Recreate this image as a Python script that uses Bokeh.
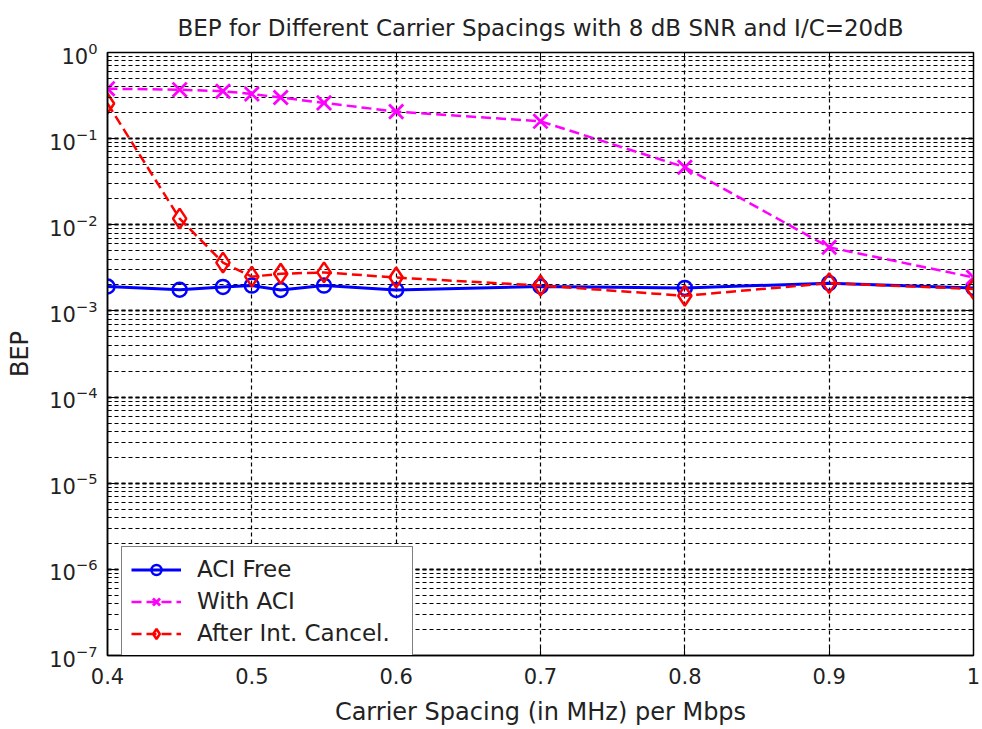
from bokeh.plotting import figure
from bokeh.models import (FixedTicker, LogAxis, LinearAxis, Legend, LegendItem,
                          LogTicker, Range1d, CustomJSTickFormatter)
from bokeh.embed import file_html
from bokeh.resources import INLINE

# ---- data ----
spacing = [0.4, 0.45, 0.48, 0.5, 0.52, 0.55, 0.6, 0.7, 0.8, 0.9, 1.0]
aci_free = [1.92e-3, 1.76e-3, 1.90e-3, 1.97e-3, 1.75e-3, 1.97e-3, 1.75e-3, 1.92e-3, 1.85e-3, 2.1e-3, 1.85e-3]
with_aci = [0.38, 0.37, 0.355, 0.33, 0.30, 0.26, 0.206, 0.159, 0.0466, 0.00548, 0.00245]
after_ic = [0.256, 0.0118, 0.00364, 0.0025, 0.0027, 0.0028, 0.00244, 0.00197, 0.0015, 0.0021, 0.0018]
x_ticks = [0.4, 0.5, 0.6, 0.7, 0.8, 0.9, 1.0]
x_tick_labels = {0.4: "0.4", 0.5: "0.5", 0.6: "0.6", 0.7: "0.7", 0.8: "0.8", 0.9: "0.9", 1: "1"}
series_names = ["ACI Free", "With ACI", "After Int. Cancel."]

FONT = "DejaVu Sans"
TXT = "#222222"

p = figure(width=982, height=729, y_axis_type="log",
           x_range=Range1d(0.4, 1.0), y_range=Range1d(1e-7, 1.0),
           output_backend="svg", toolbar_location=None,
           min_border_left=107, min_border_right=9, min_border_top=52, min_border_bottom=74)

p.title.text = "BEP for Different Carrier Spacings with 8 dB SNR and I/C=20dB"
p.title.align = "center"
p.title.vertical_align = "top"
p.title.text_font = FONT
p.title.text_font_size = "23px"
p.title.text_font_style = "normal"
p.title.text_color = TXT
p.title.standoff = 20

p.outline_line_color = "black"
p.outline_line_width = 1.5
p.background_fill_color = "white"
p.border_fill_color = "white"

# axes
for ax in [p.xaxis[0], p.yaxis[0]]:
    ax.major_tick_in = 8
    ax.major_tick_out = 0
    ax.minor_tick_in = 4
    ax.minor_tick_out = 0
    ax.axis_line_color = "black"
    ax.axis_line_width = 1.5
    ax.major_tick_line_color = "black"
    ax.minor_tick_line_color = "black"
    ax.major_label_text_font = FONT
    ax.major_label_text_font_size = "21px"
    ax.major_label_text_color = TXT
    ax.axis_label_text_font = FONT
    ax.axis_label_text_font_size = "24px"
    ax.axis_label_text_font_style = "normal"
    ax.axis_label_text_color = TXT

p.xaxis.ticker = FixedTicker(ticks=x_ticks)
p.xaxis.major_label_overrides = x_tick_labels
p.xaxis.minor_tick_line_color = None
p.xaxis.axis_label = "Carrier Spacing (in MHz) per Mbps"
p.xaxis.major_label_standoff = 12
p.xaxis.axis_label_standoff = 11
p.yaxis.axis_label = "BEP"
p.yaxis.major_label_standoff = 10
p.yaxis.axis_label_standoff = 12
p.yaxis.ticker = LogTicker(num_minor_ticks=10)

# mirrored axes (box ticks)
r_ax = LogAxis(ticker=LogTicker(num_minor_ticks=10), major_tick_in=8, major_tick_out=0,
               minor_tick_in=4, minor_tick_out=0, axis_line_color="black",
               formatter=CustomJSTickFormatter(code="return ''"), major_label_standoff=0)
p.add_layout(r_ax, "right")
t_ax = LinearAxis(ticker=FixedTicker(ticks=x_ticks), major_tick_in=8, major_tick_out=0,
                  minor_tick_line_color=None, axis_line_color="black",
                  formatter=CustomJSTickFormatter(code="return ''"), major_label_standoff=0)
p.add_layout(t_ax, "above")

# grids
p.xgrid.grid_line_color = "black"
p.xgrid.grid_line_dash = "4 3"
p.xgrid.grid_line_width = 1.2
p.ygrid.grid_line_color = "black"
p.ygrid.grid_line_dash = "4 3"
p.ygrid.grid_line_width = 1.8
p.ygrid.minor_grid_line_color = "black"
p.ygrid.minor_grid_line_dash = "4 3"
p.ygrid.minor_grid_line_width = 1.2

# series
l1 = p.line(spacing, aci_free, line_color="#0000ff", line_width=3)
s1 = p.scatter(spacing, aci_free, marker="circle", size=14, fill_color=None,
               line_color="#0000ff", line_width=2.5)
l2 = p.line(spacing, with_aci, line_color="#ff00ff", line_width=2.5, line_dash="10 5")
s2 = p.scatter(spacing, with_aci, marker="x", size=20, line_color="#ff00ff", line_width=2.8)
l3 = p.line(spacing, after_ic, line_color="#ff0000", line_width=2.5, line_dash="10 5")
s3 = p.scatter(spacing, after_ic, marker="diamond", size=20, fill_color=None,
               line_color="#ff0000", line_width=2.5)

legend = Legend(items=[LegendItem(label=series_names[0], renderers=[l1, s1]),
                       LegendItem(label=series_names[1], renderers=[l2, s2]),
                       LegendItem(label=series_names[2], renderers=[l3, s3])],
                location=(14, -1))
legend.border_line_color = "black"
legend.border_line_width = 1.5
legend.background_fill_color = "white"
legend.background_fill_alpha = 1
legend.label_text_font = FONT
legend.label_text_font_size = "23px"
legend.label_text_color = TXT
legend.glyph_width = 50
legend.glyph_height = 25
legend.label_height = 25
legend.label_width = 206
legend.label_standoff = 16
legend.spacing = 6
legend.padding = 9
legend.margin = 0
p.add_layout(legend, "center")

open("out.html", "w").write(file_html(p, INLINE))
